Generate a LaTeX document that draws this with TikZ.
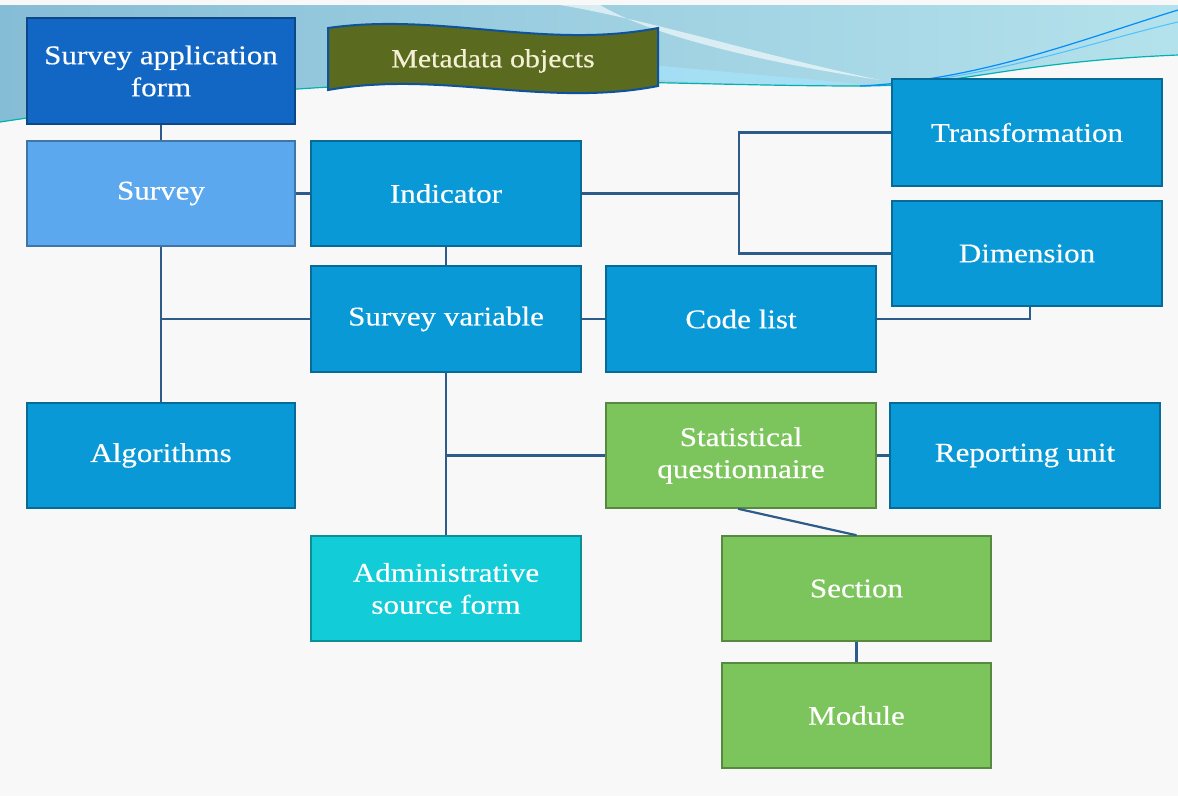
\documentclass[tikz,border=0pt]{standalone}
\usepackage{fontspec}
\setmainfont{Liberation Serif}[FakeStretch=1.15, FakeBold=0.4]
\begin{document}
\begin{tikzpicture}[x=1pt,y=-1pt,
  box/.style={draw=#1!70!black, fill=#1, line width=1.5pt, minimum width=270pt, minimum height=105pt,
     text=white, font=\fontsize{27}{32}\selectfont, align=center, inner sep=2pt},
  link/.style={draw=linec, line width=2.2pt}]
\definecolor{bg}{HTML}{F8F8F8}
\definecolor{dblue}{HTML}{1167C3}
\definecolor{lblue}{HTML}{5BA8EE}
\definecolor{mblue}{HTML}{0899D6}
\definecolor{mgreen}{HTML}{7CC55C}
\definecolor{turq}{HTML}{12CDD8}
\definecolor{olive}{HTML}{5A6A1E}
\definecolor{linec}{HTML}{2E5C8A}
\definecolor{bandl}{HTML}{86BDD6}
\definecolor{bandr}{HTML}{B4E2EC}
\definecolor{cream}{HTML}{F4F0D4}
\useasboundingbox (0,0) rectangle (1178,796);
\fill[bg] (0,0) rectangle (1178,796);
% top band
\shade[left color=bandl, right color=bandr]
  (0,5) -- (1178,5) -- (1178,55) .. controls (1010,62) and (960,86) .. (860,86)
  .. controls (620,86) and (400,62) .. (0,122) -- cycle;
\fill[white, opacity=0.6] (560,5) .. controls (650,20) and (760,55) .. (880,80)
  .. controls (760,62) and (650,35) .. (600,5) -- cycle;
\fill[cyan!35!white, opacity=0.8] (600,60) .. controls (700,70) and (800,78) .. (860,84)
  .. controls (760,86) and (660,82) .. (600,75) -- cycle;
\draw[teal!60!cyan, line width=1.2pt] (0,122) .. controls (400,62) and (620,86) .. (860,86)
  .. controls (960,86) and (1010,62) .. (1178,55);
\draw[blue!45!cyan, line width=1.2pt] (860,86) .. controls (980,80) and (1080,40) .. (1178,10);
\draw[blue!35!cyan!70!white, line width=1pt] (900,84) .. controls (1010,72) and (1100,40) .. (1178,22);
% banner
\draw[draw=dblue!80!black, fill=olive, line width=2pt]
  (328,28) .. controls (440,12) and (545,50) .. (658,28) -- (658,86)
  .. controls (545,108) and (440,70) .. (328,90) -- cycle;
\node[text=cream, font=\fontsize{26}{30}\selectfont] (meta) at (493,61) {Metadata objects};
% boxes
\node[box=dblue, minimum width=268pt, minimum height=106pt] (sa) at (161,71) {Survey application\\form};
\node[box=lblue, minimum width=268pt] (survey) at (161,193.5) {Survey};
\node[box=mblue] (ind) at (446,193.5) {Indicator};
\node[box=mblue, minimum height=107pt] (trans) at (1027,132.5) {Transformation};
\node[box=mblue] (dim) at (1027,253.5) {Dimension};
\node[box=mblue, minimum height=106pt] (sv) at (446,319) {Survey variable};
\node[box=mblue, minimum height=106pt] (code) at (741,319) {Code list};
\node[box=mblue, minimum width=268pt] (alg) at (161,455.5) {Algorithms};
\node[box=mgreen] (stat) at (741,455.5) {Statistical\\questionnaire};
\node[box=mblue] (rep) at (1025,455.5) {Reporting unit};
\node[box=turq] (adm) at (446,588.5) {Administrative\\source form};
\node[box=mgreen, minimum width=269pt] (sec) at (856.5,588.5) {Section};
\node[box=mgreen, minimum width=269pt] (mod) at (856.5,715.5) {Module};
% connectors
\coordinate (j1) at (739,193.5);
\draw[link] (sa.south) -- (survey.north);
\draw[link] (survey.east) -- (ind.west);
\draw[link] (ind.east) -- (j1);
\draw[link] (trans.west) -| (j1) |- (dim.west);
\draw[link] (ind.south) -- (sv.north);
\draw[link] (survey.south) -- (alg.north);
\draw[link] (survey.south |- sv.west) -- (sv.west);
\draw[link] (sv.east) -- (code.west);
\draw[link] (code.east) -| ([xshift=3pt]dim.south);
\draw[link] (sv.south) -- (adm.north);
\draw[link] (sv.south |- stat.west) -- (stat.west);
\draw[link] (stat.east) -- (rep.west);
\draw[link] ([xshift=-3pt]stat.south) -- (sec.north);
\draw[link] (sec.south) -- (mod.north);
\end{tikzpicture}
\end{document}
